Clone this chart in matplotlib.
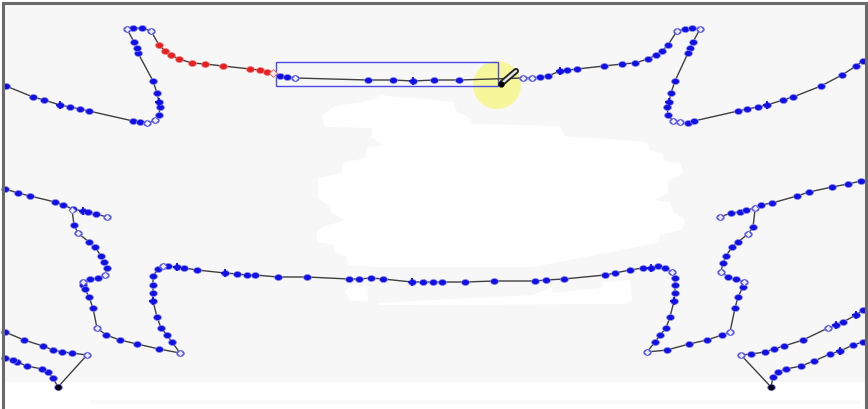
import matplotlib
matplotlib.use("Agg")
import matplotlib.pyplot as plt
from matplotlib.path import Path
from matplotlib.patches import Circle, Rectangle, Polygon
from matplotlib.transforms import Affine2D

# Traced points, in reference pixel coordinates
top_left_x = [6,33,44,60,70,80,89,133,140,147,155,159,160,159,157,153,138,137,134,127,133,142,151]
top_left_y = [86,97,100,105,107,109,111,121,122,123,120,115,107,102,93,81,53,48,42,29,28,28,31]
red_x = [159,165,171,179,192,205,223,250,260,267]
red_y = [45,51,55,59,63,64,66,69,70,72]
top_mid_x = [280,287,295,368,393,413,434,459,523,532,540,548,560,567,577,604,622,635,648,656,662,668,677,685,692,700]
top_mid_y = [76,77,78,80,80,81,80,80,78,78,77,76,71,70,69,66,64,63,59,55,51,45,31,29,28,29]
top_right_x = [693,690,688,675,671,669,667,668,673,680,688,694,738,747,758,767,783,793,821,842,856,863]
top_right_y = [42,48,53,81,93,102,107,115,121,122,123,121,111,109,107,105,100,97,86,75,66,61]
left_x = [5,18,30,55,63,73,83,88,96,107]
left_y = [189,193,196,202,205,209,211,212,214,217]
left_wave_x = [74,78,89,95,101,104,107,105,98,90,83,83,85,89,93,97,106,120,137,159,180]
left_wave_y = [225,233,242,247,256,262,268,275,278,279,282,285,289,297,308,328,335,340,344,349,353]
bottom_x = [172,167,161,157,153,153,153,153,158,163,168,177,184,197,225,237,247,255,278,307,349,359,371,383,412,423,433,442,465,494,535,546,564,605,615,630,643,651,658,665,672,675,675,675,674,670,666,660,655,647]
bottom_y = [342,335,328,317,301,293,285,276,269,266,266,267,268,270,273,274,275,275,277,277,279,279,278,279,282,282,282,282,282,281,281,280,279,275,273,270,268,268,266,268,272,278,285,293,301,317,328,335,342,352]
right_wave_x = [667,689,707,722,730,735,738,743,744,736,728,721,723,726,732,738,748,753]
right_wave_y = [350,344,340,335,332,308,297,287,282,279,277,272,263,256,247,242,234,227]
right_x = [720,731,740,746,755,761,772,797,809,832,848,861]
right_y = [217,213,212,210,208,205,203,196,192,187,184,181]
low_right_x = [863,856,843,836,828,803,784,774,765,751,741,771,773,778,786,801,814,830,840,853,863]
low_right_y = [310,315,322,325,328,340,346,349,352,354,355,387,377,372,369,366,361,354,351,345,342]
low_left_x = [5,24,43,53,62,72,87,58,53,48,42,27,17,13,5]
low_left_y = [332,340,346,350,352,353,355,387,378,372,369,366,362,360,358]

# Links that carry no marker of their own
top_link_x = [151,159]; top_link_y = [31,45]
red_link_x = [267,280]; red_link_y = [72,76]
right_link_x = [753,755,755]; right_link_y = [227,210,208]
left_link_x = [72,74]; left_link_y = [210,225]
bottom_link_x = [180,172]; bottom_link_y = [353,342]

# Open (hollow) markers
open_x = [127,151,147,155,295,523,532,677,700,673,680,72,78,107,83,105,97,180,163,672,647,730,744,721,755,748,720,741,87,828]
open_y = [29,31,123,120,78,78,78,31,29,121,122,210,233,217,282,275,328,353,266,272,352,332,282,272,208,234,217,355,355,328]
# Plus-shaped markers
plus_x = [60,225,412,177,153,651,674,767,159,669,83,836,856,840,413,560]
plus_y = [105,273,282,267,301,268,301,105,102,102,211,325,315,351,81,71]

# Highlight box, cursor circle
box_x = [276,498]; box_y = [62,86]
cursor_x = [497]; cursor_y = [85]
pencil_x = [502,516]; pencil_y = [83,71]

fig = plt.figure(figsize=(8.68,4.09), dpi=100, facecolor="white")
ax = fig.add_axes([0,0,1,1])
ax.set_xlim(0,868); ax.set_ylim(409,0); ax.axis("off")

panel = "#f7f7f7"
ax.add_patch(Rectangle((3,3),863,379,fc=panel,ec="none",zorder=0))
ax.add_patch(Rectangle((90,400),770,4,fc="#f9f9f9",ec="none",zorder=0))
blobs = [
 [(323,115),(333,107),(373,100),(380,95),(453,102),(457,112),(470,118),(472,124),(560,126),(565,136),(647,142),(650,151),(662,153),(665,162),(680,163),(683,173),(667,182),(668,193),(655,200),(670,202),(675,213),(685,220),(682,230),(660,235),(658,243),(533,267),(373,267),(348,265),(347,257),(335,252),(333,245),(318,242),(316,233),(323,227),(345,220),(332,213),(328,205),(318,198),(318,178),(342,173),(343,163),(365,158),(368,147),(383,145),(371,137),(372,128),(325,127),(322,117)],
 [(345,292),(350,285),(367,287),(368,302),(350,300)],
 [(377,303),(533,295),(552,287),(552,293),(602,288),(603,282),(630,280),(632,300),(625,304),(380,305)],
]
for b in blobs:
    ax.add_patch(Polygon(b,closed=True,fc="white",ec="none",zorder=1))
ax.plot([3,3,866,866],[409,3,3,409],color="#6a6a6a",lw=2.2,zorder=8,solid_joinstyle="miter")

ax.add_patch(Circle((cursor_x[0],cursor_y[0]),24,fc="#f6f69b",ec="none",zorder=2))
ax.add_patch(Rectangle((box_x[0],box_y[0]),box_x[1]-box_x[0],box_y[1]-box_y[0],fc="none",ec="#4a4ae6",lw=1,zorder=3))

line = dict(color="#3f3f3f",lw=1.0,zorder=4)
chains = [(top_left_x,top_left_y),(top_link_x,top_link_y),(red_x,red_y),(red_link_x,red_link_y),
          (top_mid_x,top_mid_y),(top_right_x,top_right_y),(left_x,left_y),(left_wave_x,left_wave_y),
          (left_link_x,left_link_y),(bottom_x,bottom_y),(bottom_link_x,bottom_link_y),
          (right_wave_x,right_wave_y),(right_link_x,right_link_y),(right_x,right_y),
          (low_right_x,low_right_y),(low_left_x,low_left_y)]
for x,y in chains:
    ax.plot(x,y,**line)
# joins between chains
ax.plot([top_right_x[0],top_mid_x[-1]],[top_right_y[0],top_mid_y[-1]],**line)
ax.plot([left_wave_x[-1],bottom_link_x[0]],[left_wave_y[-1],bottom_link_y[0]],**line)
ax.plot([bottom_x[-1],right_wave_x[0]],[bottom_y[-1],right_wave_y[0]],**line)

oval = Path.unit_circle().transformed(Affine2D().scale(1.3,1.0))
blue = "#1010e6"
for x,y in chains:
    if len(x) > 3:
        c = "#e62020" if x is red_x else blue
        e = "#f08080" if x is red_x else "#8a8aee"
        ax.plot(x,y,ls="none",marker=oval,ms=5.6,mfc=c,mec=e,mew=0.5,zorder=5)
ax.plot(plus_x,plus_y,ls="none",marker="+",ms=6,mew=1.3,color=blue,zorder=5.5)
ax.plot(open_x,open_y,ls="none",marker="D",ms=3.4,mfc="#eeeeff",mec="#6a6aea",mew=0.6,zorder=6)
ax.plot([273],[73],ls="none",marker="D",ms=3.8,mfc="#fbeaea",mec="#e86060",mew=0.6,zorder=6)
ax.plot([58,771],[387,387],ls="none",marker="o",ms=3.2,color="black",zorder=7)

ax.plot(pencil_x,pencil_y,color="#222222",lw=4.4,solid_capstyle="round",zorder=7)
ax.plot(pencil_x,pencil_y,color="#e4e4e4",lw=1.7,solid_capstyle="round",zorder=7.5)
ax.plot([501],[84],ls="none",marker="o",ms=3.5,color="black",zorder=8)

fig.savefig("out.png",dpi=100)
